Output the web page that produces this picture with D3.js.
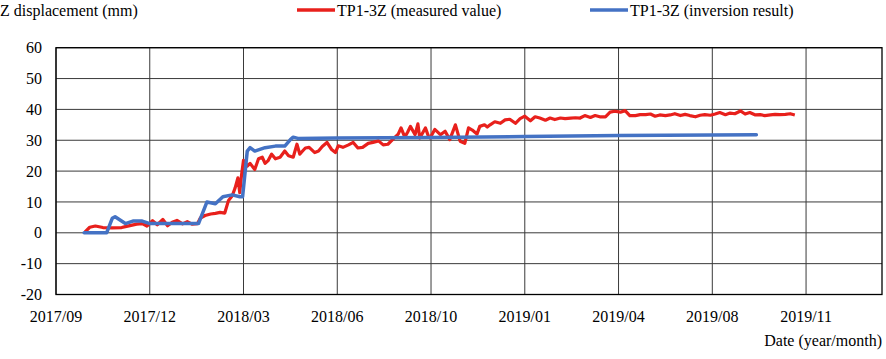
<!DOCTYPE html>
<html>
<head>
<meta charset="utf-8">
<script src="https://cdn.jsdelivr.net/npm/d3@7"></script>
<style>
  body { margin: 0; background: #fff; }
  svg text { font-family: "Liberation Serif", "Times New Roman", Times, "DejaVu Serif", serif; font-size: 16px; fill: #000; }
</style>
</head>
<body>
<div id="chart"></div>
<script>
// tick labels of the date axis (equally spaced on the chart)
const dateTicks = ["2017/09","2017/12","2018/03","2018/06","2018/10","2019/01","2019/04","2019/08","2019/11"];
const yTicks = [-20,-10,0,10,20,30,40,50,60];

// positions are in tick units along the date axis (0 = 2017/09, 1 = 2017/12, ...)
const measuredPos = [0.31,0.36,0.42,0.50,0.60,0.70,0.74,0.80,0.86,0.92,0.97,1.03,1.08,1.14,1.19,1.24,1.29,1.35,1.40,1.45,1.51,1.54,1.59,1.65,1.70,1.75,1.80,1.84,1.88,1.91,1.94,1.96,1.98,2.00,2.04,2.07,2.12,2.16,2.20,2.23,2.26,2.30,2.34,2.39,2.44,2.48,2.53,2.57,2.60,2.63,2.66,2.70,2.76,2.80,2.84,2.89,2.94,2.98,3.01,3.06,3.12,3.17,3.22,3.27,3.33,3.38,3.44,3.49,3.54,3.60,3.65,3.68,3.72,3.75,3.78,3.83,3.86,3.88,3.94,3.97,3.99,4.04,4.10,4.15,4.20,4.26,4.31,4.36,4.40,4.44,4.49,4.52,4.57,4.60,4.63,4.68,4.74,4.79,4.84,4.90,4.95,5.00,5.06,5.11,5.16,5.22,5.27,5.32,5.38,5.43,5.49,5.54,5.59,5.64,5.70,5.75,5.80,5.86,5.91,5.96,6.02,6.07,6.12,6.18,6.23,6.29,6.34,6.39,6.44,6.50,6.55,6.60,6.66,6.71,6.76,6.82,6.87,6.92,6.98,7.03,7.08,7.14,7.19,7.24,7.30,7.35,7.40,7.46,7.51,7.56,7.62,7.67,7.72,7.78,7.83,7.88];
const measuredVal = [0.3,1.8,2.2,1.7,1.6,1.7,2.0,2.4,2.8,3.0,2.2,3.9,2.6,4.3,2.3,3.4,4.0,2.9,3.6,2.8,3.0,4.8,5.6,6.1,6.3,6.6,6.4,10.5,12.0,14.5,17.8,13.0,19.0,23.5,21.6,22.5,20.5,24.0,24.5,22.5,23.3,25.5,24.0,24.5,26.5,25.0,24.5,28.7,25.5,26.5,27.5,27.7,26.0,26.5,28.0,29.3,27.0,26.0,28.2,27.7,28.5,29.3,27.5,27.7,29.0,29.3,29.8,28.5,28.7,30.5,32.0,34.0,31.0,32.6,34.5,31.8,35.3,30.7,34.0,31.5,30.7,33.5,31.8,32.9,30.2,35.0,29.7,29.0,34.0,33.3,32.0,34.5,35.0,34.3,35.0,36.0,35.5,36.6,36.8,35.5,37.0,37.8,36.3,37.6,37.2,36.5,37.2,36.7,37.2,37.0,37.2,37.3,37.2,38.0,37.4,38.0,37.6,37.6,39.1,39.4,39.1,39.6,38.0,38.0,38.3,38.3,38.5,37.8,38.2,38.0,38.2,38.6,38.0,38.4,38.0,37.6,38.1,38.3,38.1,38.5,39.0,38.3,38.8,38.6,39.5,38.5,39.0,38.2,38.3,38.0,38.2,38.4,38.3,38.4,38.6,38.2];

const inversionPos = [0.30,0.54,0.60,0.63,0.74,0.82,0.92,1.00,1.20,1.40,1.52,1.61,1.70,1.78,1.88,1.96,1.99,2.04,2.07,2.12,2.23,2.34,2.44,2.50,2.53,2.58,3.00,4.00,5.00,6.00,7.00,7.47];
const inversionVal = [0.0,0.0,4.7,5.2,3.0,3.8,3.8,3.0,3.0,3.0,3.0,10.0,9.4,11.7,12.3,11.7,11.7,26.5,27.6,26.5,27.6,28.1,28.1,30.2,31.0,30.6,30.7,30.9,31.2,31.5,31.7,31.8];

const measured = measuredPos.map((p, i) => ({p, v: measuredVal[i]}));
const inversion = inversionPos.map((p, i) => ({p, v: inversionVal[i]}));

const width = 886, height = 359;
const margin = {top: 47.7, right: 4, bottom: 64.5, left: 56};
const serif = '"Liberation Serif", "Times New Roman", Times, "DejaVu Serif", serif';

const svg = d3.select("#chart")
  .append("svg")
  .attr("width", width)
  .attr("height", height)
  .attr("font-family", serif)
  .attr("font-size", 16);

const x = d3.scaleLinear()
  .domain([0, 8.81])
  .range([margin.left, width - margin.right]);

const y = d3.scaleLinear()
  .domain([-20, 60])
  .range([height - margin.bottom, margin.top]);

// grid
svg.append("g")
  .selectAll("line")
  .data(yTicks)
  .join("line")
  .attr("x1", x(0)).attr("x2", x(8.81))
  .attr("y1", d => y(d)).attr("y2", d => y(d))
  .attr("stroke", "#3a3a3a").attr("stroke-width", 1);

svg.append("g")
  .selectAll("line")
  .data(dateTicks)
  .join("line")
  .attr("x1", (d, i) => x(i)).attr("x2", (d, i) => x(i))
  .attr("y1", y(60)).attr("y2", y(-20))
  .attr("stroke", "#3a3a3a").attr("stroke-width", 1);

svg.append("rect")
  .attr("x", x(0)).attr("y", y(60))
  .attr("width", x(8.81) - x(0)).attr("height", y(-20) - y(60))
  .attr("fill", "none").attr("stroke", "#000").attr("stroke-width", 1.3);

// y tick labels
svg.append("g")
  .selectAll("text")
  .data(yTicks)
  .join("text")
  .attr("x", 42)
  .attr("y", d => y(d))
  .attr("dy", "0.35em")
  .attr("text-anchor", "end")
  .text(d => d);

// x tick labels
svg.append("g")
  .selectAll("text")
  .data(dateTicks)
  .join("text")
  .attr("x", (d, i) => x(i))
  .attr("y", 322)
  .attr("text-anchor", "middle")
  .text(d => d);

svg.append("text")
  .attr("x", 882).attr("y", 346)
  .attr("text-anchor", "end")
  .text("Date (year/month)");

svg.append("text")
  .attr("x", 0).attr("y", 16)
  .text("Z displacement (mm)");

const line = d3.line()
  .x(d => x(d.p))
  .y(d => y(d.v));

svg.append("path")
  .datum(measured)
  .attr("fill", "none")
  .attr("stroke", "#e8201c")
  .attr("stroke-width", 3.2)
  .attr("stroke-linejoin", "round")
  .attr("d", line);

svg.append("path")
  .datum(inversion)
  .attr("fill", "none")
  .attr("stroke", "#4472c4")
  .attr("stroke-width", 3.5)
  .attr("stroke-linejoin", "round")
  .attr("stroke-linecap", "round")
  .attr("d", line);

// legend
const legend = [
  {name: "TP1-3Z (measured value)", color: "#e8201c", x0: 297},
  {name: "TP1-3Z (inversion result)", color: "#4472c4", x0: 590}
];
const lg = svg.append("g").selectAll("g").data(legend).join("g");
lg.append("line")
  .attr("x1", d => d.x0).attr("x2", d => d.x0 + 38)
  .attr("y1", 10).attr("y2", 10)
  .attr("stroke", d => d.color).attr("stroke-width", 3.5);
lg.append("text")
  .attr("x", d => d.x0 + 40).attr("y", 16)
  .text(d => d.name);
</script>
</body>
</html>
